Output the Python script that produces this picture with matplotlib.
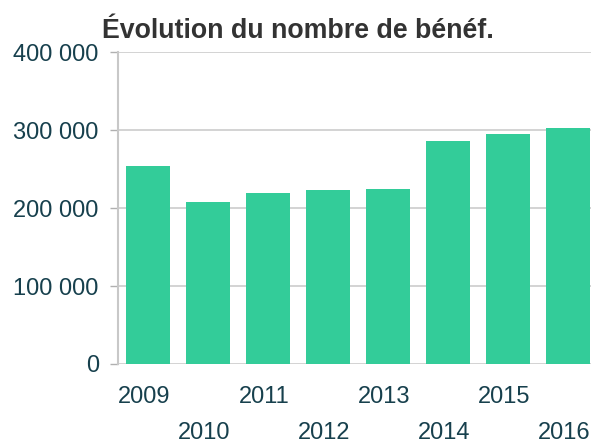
import matplotlib
matplotlib.use("Agg")
import matplotlib.pyplot as plt
from matplotlib.ticker import FuncFormatter, MultipleLocator
import matplotlib.transforms as mtransforms

plt.rcParams['font.family'] = ['Liberation Sans', 'DejaVu Sans']

years = ["2009", "2010", "2011", "2012", "2013", "2014", "2015", "2016"]
beneficiaires = [254600, 208300, 219100, 223400, 224600, 286700, 294800, 302500]
title = "Évolution du nombre de bénéf."

W, H = 591, 443
fig = plt.figure(figsize=(W / 100, H / 100), dpi=100)
ax = fig.add_axes([118 / W, 1 - 364 / H, (W - 118) / W, (364 - 52.3) / H])

bar_color = "#33cc99"
text_color = "#17404d"
grid_color = "#d0d0d0"

x = list(range(len(years)))
ax.bar(x, beneficiaires, width=0.733, color=bar_color, zorder=3)

ax.set_xlim(-0.5, 7.383)
ax.set_ylim(0, 400000)
ax.yaxis.set_major_locator(MultipleLocator(100000))
ax.yaxis.set_major_formatter(FuncFormatter(lambda v, p: f"{int(v):,}".replace(",", " ")))

ax.set_axisbelow(True)
ax.grid(axis="y", color=grid_color, linewidth=1.3)
for s in ["top", "right", "bottom"]:
    ax.spines[s].set_visible(False)
ax.spines["left"].set_color("#c8c8c8")
ax.spines["left"].set_linewidth(1.5)

ax.tick_params(axis="y", length=5.8, width=1, color="#b0b0b0", pad=8,
               labelsize=17, labelcolor=text_color)
ax.tick_params(axis="x", length=0, labelsize=17, labelcolor=text_color)

ax.set_xticks(x)
ax.set_xticklabels(years)
offset = mtransforms.ScaledTranslation(-4 / 100, 0, fig.dpi_scale_trans)
for i, tick in enumerate(ax.xaxis.get_major_ticks()):
    tick.set_pad(15.5 if i % 2 == 0 else 41.5)
for lbl in ax.get_xticklabels():
    lbl.set_transform(lbl.get_transform() + offset)

fig.text(101.5 / W, 1 - 37.6 / H, title, ha="left", va="baseline",
         fontsize=19.3, fontweight="bold", color="#333333")

fig.savefig("out.png", dpi=100)
